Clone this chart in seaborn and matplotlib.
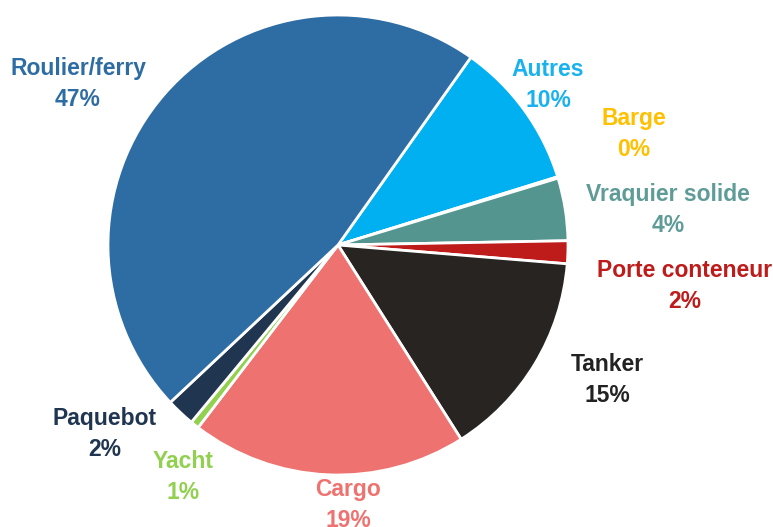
import numpy as np
import matplotlib
matplotlib.use('Agg')
import matplotlib.pyplot as plt
import seaborn as sns

# Data (clockwise from the top right)
categories = ['Autres', 'Barge', 'Vraquier solide', 'Porte conteneur', 'Tanker',
              'Cargo', 'Yacht', 'Paquebot', 'Roulier/ferry']
shares = [10.4, 0.1, 4.4, 1.6, 14.7, 19.4, 0.6, 2.0, 46.8]
pct_labels = ['10%', '0%', '4%', '2%', '15%', '19%', '1%', '2%', '47%']
slice_colors = ['#00B0F0', '#FFC000', '#559590', '#BE1B1B', '#272421',
                '#EE7270', '#92D050', '#1F3550', '#2E6CA4']
text_colors = ['#1AB2EE', '#FFC000', '#5F9C98', '#BE1B1B', '#222222',
               '#EE7270', '#92D050', '#1F3550', '#2E6CA4']

sns.set_style('white')
plt.rcParams['font.family'] = ['Liberation Sans', 'DejaVu Sans']

fig = plt.figure(figsize=(7.73, 5.27), dpi=100)
# pie centre ~ (338, 245) px, radius ~ 230 px
cx, cy, r = 338, 245, 230
W, H = 773, 527
ax = fig.add_axes([(cx - r) / W, (H - cy - r) / H, 2 * r / W, 2 * r / H])

ax.pie(shares, colors=slice_colors, startangle=54.7, counterclock=False,
       radius=1, wedgeprops=dict(edgecolor='white', linewidth=2))
ax.set_xlim(-1, 1)
ax.set_ylim(-1, 1)
ax.set_aspect('equal')
ax.axis('off')

# label centres in pixels (text block centre)
label_px = {
    'Autres': (548, 85),
    'Barge': (634, 134),
    'Vraquier solide': (668, 210),
    'Porte conteneur': (685, 286),
    'Tanker': (607, 380),
    'Cargo': (348, 505),
    'Yacht': (183, 477),
    'Paquebot': (105, 434),
    'Roulier/ferry': (78, 84),
}

for name, pct, col in zip(categories, pct_labels, text_colors):
    px, py = label_px[name]
    ax.text((px - cx) / r, (cy - py) / r, name + '\n' + pct, ha='center', va='center',
            color=col, fontsize=16.5, fontweight='bold', linespacing=1.4,
            clip_on=False)

fig.savefig('out.png', dpi=100)
